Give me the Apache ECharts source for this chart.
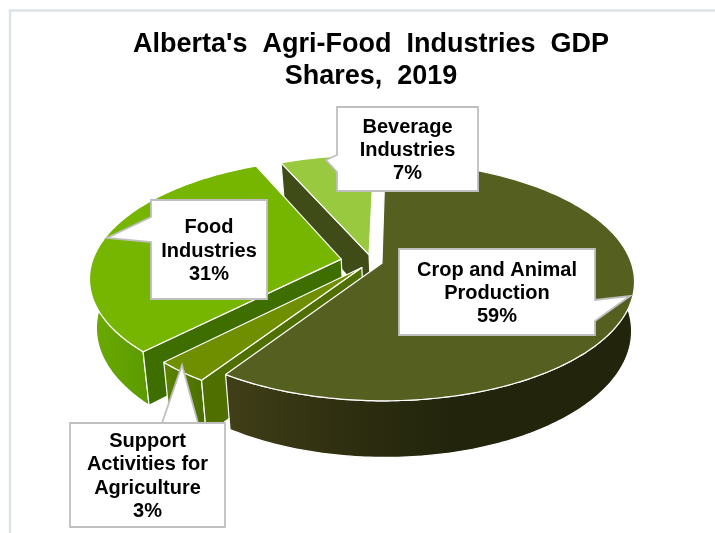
<!DOCTYPE html>
<html>
<head>
<meta charset="utf-8">
<style>html,body{margin:0;padding:0;background:#fff}#c{width:715px;height:533px}</style>
<script src="https://cdn.jsdelivr.net/npm/echarts@6/dist/echarts.min.js"></script>
</head>
<body>
<div id="c"></div>
<script>
// Data, in clockwise order from 12 o'clock
const categories = ['Crop and Animal\nProduction', 'Support\nActivities for\nAgriculture', 'Food\nIndustries', 'Beverage\nIndustries'];
const shares = [59, 3, 31, 7];
const titleText = "Alberta's  Agri-Food  Industries  GDP\nShares,  2019";

// Styling and layout
const explodes = [10.4, 16, 31.4, 15];
const topColors = ['#545f20', '#6f8f00', '#76b500', '#99c93f'];
const radialColors = ['#2f2f10', '#4f7000', '#3f6e00', '#3f4c17'];
const wallStops = [
  [[0, '#403f18'], [0.3, '#2e2e10'], [0.55, '#22250c'], [1, '#22250c']],
  [[0, '#5c8400'], [1, '#4a6e00']],
  [[0, '#6cab00'], [0.35, '#5a9a00'], [1, '#4a8400']],
  [[0, '#7a9a30'], [1, '#7a9a30']]
];
const boxes = [
  {x: 399, y: 249, w: 196, h: 86, ptr: [[595, 300], [630, 296], [595, 321]]},
  {x: 70, y: 423, w: 155, h: 104, ptr: [[198, 423], [182, 365], [162, 423]]},
  {x: 151, y: 200, w: 116, h: 99, ptr: [[151, 242], [107, 238], [151, 217]]},
  {x: 337, y: 107, w: 141, h: 84, ptr: [[337, 172], [326, 160], [337, 155]]}
];
const P = {cx: 372, cy: 261.7, R: 249, squash: 0.468, persp: 0.15, depth: 48, lowerScale: 0.982, lowerFixX: 473, rotation: 1.2 * Math.PI / 180};

const total = shares.reduce((a, b) => a + b, 0);
const spans = [];
shares.reduce((acc, v) => { spans.push([acc, acc + v]); return acc + v; }, 0);
const rad = p => p / total * Math.PI * 2 + P.rotation;

function project(u, v, lower) {
  const s = 1 / (1 + P.persp * v / P.R);
  const x = P.cx + u * s;
  const y = P.cy - v * P.squash * s;
  return lower ? [P.lowerFixX + (x - P.lowerFixX) * P.lowerScale, y + P.depth * s] : [x, y];
}
function planeOrigin(i) {
  const m = rad((spans[i][0] + spans[i][1]) / 2);
  return [explodes[i] * Math.sin(m), explodes[i] * Math.cos(m)];
}
function rim(i, a, lower) {
  const o = planeOrigin(i);
  return project(o[0] + P.R * Math.sin(a), o[1] + P.R * Math.cos(a), lower);
}
function arc(i, a0, a1, lower) {
  const pts = [], n = Math.max(8, Math.ceil((a1 - a0) * 60));
  for (let j = 0; j <= n; j++) pts.push(rim(i, a0 + (a1 - a0) * j / n, lower));
  return pts;
}
function sliceItem(i) {
  const a0 = rad(spans[i][0]), a1 = rad(spans[i][1]);
  const o = planeOrigin(i);
  const apexTop = project(o[0], o[1], false), apexLow = project(o[0], o[1], true);
  const top = arc(i, a0, a1, false), low = arc(i, a0, a1, true);
  const xs = top.concat(low).map(p => p[0]);
  const minX = Math.min.apply(null, xs), maxX = Math.max.apply(null, xs);
  const stroke = {stroke: '#fff', lineWidth: 1.2, lineJoin: 'round'};
  const children = [];
  // A slice lying wholly at the back of the pie shows no outer wall
  if (Math.cos((a0 + a1) / 2) < 0.9) {
    children.push({type: 'polygon', shape: {points: top.concat(low.slice().reverse())}, style: Object.assign({
      fill: new echarts.graphic.LinearGradient(minX, 0, maxX, 0, wallStops[i].map(s => ({offset: s[0], color: s[1]})), true)
    }, stroke)});
  }
  children.push({type: 'polygon', shape: {points: [apexTop, top[0], low[0], apexLow]}, style: Object.assign({fill: radialColors[i]}, stroke)});
  children.push({type: 'polygon', shape: {points: [apexTop].concat(top)}, style: Object.assign({fill: topColors[i]}, stroke)});
  return {type: 'group', children: children};
}
function calloutItem(i) {
  const b = boxes[i];
  const corners = [];
  const rect = [[b.x, b.y], [b.x + b.w, b.y], [b.x + b.w, b.y + b.h], [b.x, b.y + b.h]];
  const p = b.ptr;
  const edge = p[0][0] === b.x + b.w ? 1 : (p[0][1] === b.y + b.h ? 2 : (p[0][0] === b.x ? 3 : 0));
  rect.forEach((c, k) => { corners.push(c); if (k === edge) p.forEach(q => corners.push(q)); });
  return {type: 'group', children: [
    {type: 'polygon', shape: {points: corners}, style: {fill: '#fff', stroke: '#bfbfbf', lineWidth: 1.8, lineJoin: 'miter'}},
    {type: 'text', x: b.x + b.w / 2, y: b.y + b.h / 2 + 1.5, style: {
      text: categories[i] + '\n' + shares[i] + '%',
      fill: '#000', font: 'bold 20px "Liberation Sans", Arial, sans-serif',
      lineHeight: 23.3, align: 'center', verticalAlign: 'middle'
    }}
  ]};
}
const drawOrder = [3, 2, 1, 0];
const chart = echarts.init(document.getElementById('c'), null, {renderer: 'canvas'});
chart.setOption({
  animation: false,
  backgroundColor: '#fff',
  title: {
    text: titleText, left: 366, top: 24, textAlign: 'center',
    textStyle: {fontFamily: '"Liberation Sans", Arial, sans-serif', fontWeight: 'bold', fontSize: 27, lineHeight: 32, color: '#000'}
  },
  graphic: [
    {type: 'polyline', silent: true, shape: {points: [[10, 533], [10, 10.5], [715, 10.5]]}, style: {fill: null, stroke: '#dde2e6', lineWidth: 2.4}}
  ],
  series: [
    {type: 'custom', coordinateSystem: 'none', silent: true, z: 2,
     data: drawOrder.map(i => [i, shares[i]]),
     renderItem: (params, api) => sliceItem(api.value(0))},
    {type: 'custom', coordinateSystem: 'none', silent: true, z: 3,
     data: shares.map((v, i) => [i, v]),
     renderItem: (params, api) => calloutItem(api.value(0))}
  ]
});
</script>
</body>
</html>
